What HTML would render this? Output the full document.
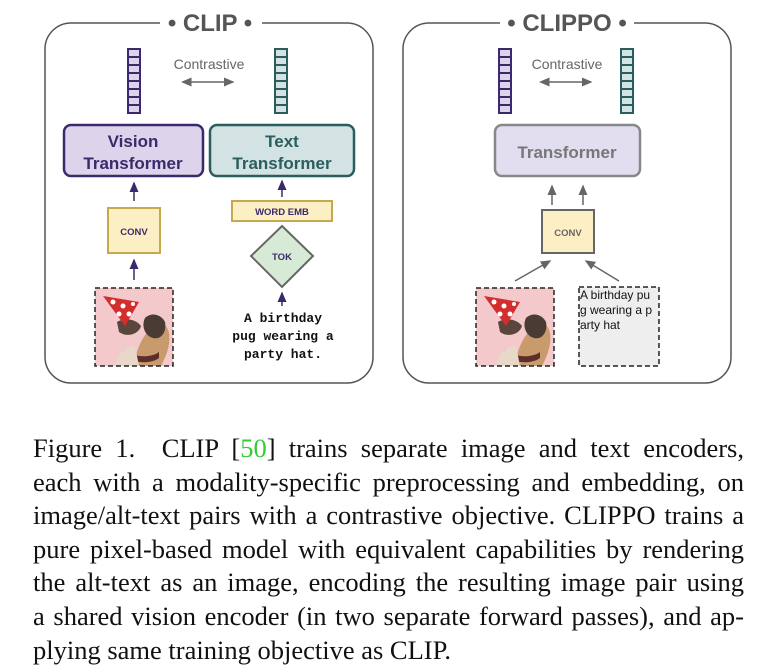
<!DOCTYPE html>
<html><head><style>
body{margin:0;background:#fff;width:769px;height:671px;overflow:hidden;position:relative}
svg{position:absolute;left:0;top:0}
.cap{position:absolute;left:33px;width:711px;top:432px;font-family:"Liberation Serif",serif;font-size:26.5px;line-height:33.6px;color:#111}
.cap div{text-align:justify;text-align-last:justify;white-space:nowrap;height:33.6px}
.cap div.l{text-align-last:left}
</style></head><body>
<svg width="769" height="420" xmlns="http://www.w3.org/2000/svg" font-family="Liberation Sans, sans-serif">
<defs>
<marker id="ap" markerWidth="8" markerHeight="8" refX="6" refY="4" orient="auto"><path d="M0,1 L7,4 L0,7 z" fill="#3b2a6b"/></marker>
<marker id="ag" markerWidth="8" markerHeight="8" refX="6" refY="4" orient="auto"><path d="M0,1 L7,4 L0,7 z" fill="#666"/></marker>
<marker id="ag2" markerWidth="8" markerHeight="8" refX="2" refY="4" orient="auto"><path d="M7,1 L0,4 L7,7 z" fill="#666"/></marker>
<g id="dog">
<rect x="0" y="0" width="78" height="78" fill="#f3c9cc"/>
<path d="M40,78 C40,60 50,45 58,38 C64,33 72,35 74,45 C76,58 70,70 66,78 z" fill="#c99b6c"/>
<path d="M50,30 C56,24 66,26 70,34 C72,44 66,52 58,50 C50,48 46,38 50,30 z" fill="#4a3b35"/>
<path d="M22,34 C28,30 40,30 46,38 C44,46 32,50 24,44 z" fill="#5a463c"/>
<path d="M8,8 L44,14 L30,38 z" fill="#d42d2d"/>
<circle cx="18" cy="14" r="2.5" fill="#fff"/><circle cx="28" cy="18" r="2.5" fill="#fff"/><circle cx="34" cy="26" r="2.5" fill="#fff"/><circle cx="24" cy="26" r="2.5" fill="#fff"/><circle cx="38" cy="16" r="2" fill="#fff"/>
<path d="M28,62 C40,70 56,70 64,64 L64,70 C56,76 40,76 28,68 z" fill="#5c2f2a"/>
<path d="M20,78 C22,66 30,58 40,58 L44,78 z" fill="#e8d8c8"/>
</g>
</defs>

<rect x="45" y="23" width="328" height="360" rx="26" fill="none" stroke="#555" stroke-width="1.5"/>
<rect x="403" y="23" width="328" height="360" rx="26" fill="none" stroke="#555" stroke-width="1.5"/>
<rect x="160" y="8" width="102" height="28" fill="#fff"/>
<rect x="500" y="8" width="134" height="28" fill="#fff"/>
<text x="210" y="31" text-anchor="middle" font-size="24" font-weight="bold" fill="#555">• CLIP •</text>
<text x="567" y="31" text-anchor="middle" font-size="24" font-weight="bold" fill="#555">• CLIPPO •</text>

<g stroke-width="2">
<g stroke="#3b2a6b" fill="#ddd3ea">
<rect x="128" y="49" width="12" height="64"/><path d="M128,57h12M128,65h12M128,73h12M128,81h12M128,89h12M128,97h12M128,105h12"/>
<rect x="499" y="49" width="12" height="64"/><path d="M499,57h12M499,65h12M499,73h12M499,81h12M499,89h12M499,97h12M499,105h12"/>
</g>
<g stroke="#2a5e5e" fill="#d3e3e3">
<rect x="275" y="49" width="12" height="64"/><path d="M275,57h12M275,65h12M275,73h12M275,81h12M275,89h12M275,97h12M275,105h12"/>
<rect x="621" y="49" width="12" height="64"/><path d="M621,57h12M621,65h12M621,73h12M621,81h12M621,89h12M621,97h12M621,105h12"/>
</g>
</g>
<text x="209" y="69" text-anchor="middle" font-size="14" fill="#666">Contrastive</text>
<text x="567" y="69" text-anchor="middle" font-size="14" fill="#666">Contrastive</text>
<line x1="184" y1="82" x2="233" y2="82" stroke="#666" stroke-width="1.5" marker-end="url(#ag)" marker-start="url(#ag2)"/>
<line x1="542" y1="82" x2="591" y2="82" stroke="#666" stroke-width="1.5" marker-end="url(#ag)" marker-start="url(#ag2)"/>

<rect x="64" y="125" width="139" height="51" rx="7" fill="#ddd3ea" stroke="#3b2a6b" stroke-width="2.5"/>
<text x="133" y="147" text-anchor="middle" font-size="17" font-weight="bold" fill="#3b2a6b">Vision</text>
<text x="133" y="169" text-anchor="middle" font-size="17" font-weight="bold" fill="#3b2a6b">Transformer</text>
<rect x="210" y="125" width="144" height="51" rx="7" fill="#d3e3e3" stroke="#2a5e5e" stroke-width="2.5"/>
<text x="282" y="147" text-anchor="middle" font-size="17" font-weight="bold" fill="#2a5e5e">Text</text>
<text x="282" y="169" text-anchor="middle" font-size="17" font-weight="bold" fill="#2a5e5e">Transformer</text>
<rect x="495" y="125" width="145" height="51" rx="7" fill="#e2deef" stroke="#888" stroke-width="2.5"/>
<text x="567" y="158" text-anchor="middle" font-size="17" font-weight="bold" fill="#777">Transformer</text>

<g stroke="#3b2a6b" stroke-width="1.5">
<line x1="134" y1="201" x2="134" y2="183" marker-end="url(#ap)"/>
<line x1="134" y1="280" x2="134" y2="260" marker-end="url(#ap)"/>
<line x1="282" y1="197" x2="282" y2="181" marker-end="url(#ap)"/>
<line x1="282" y1="306" x2="282" y2="293" marker-end="url(#ap)"/>
</g>
<rect x="108" y="208" width="52" height="45" fill="#fdefc4" stroke="#c8a84b" stroke-width="2"/>
<text x="134" y="235" text-anchor="middle" font-size="9.5" font-weight="bold" fill="#3b2a6b">CONV</text>
<rect x="232" y="201" width="100" height="20" fill="#fdefc4" stroke="#c8a84b" stroke-width="2"/>
<text x="282" y="215" text-anchor="middle" font-size="9.5" font-weight="bold" fill="#3b2a6b">WORD EMB</text>
<path d="M282,226 L313,256 L282,287 L251,256 z" fill="#d6ead6" stroke="#666" stroke-width="2"/>
<text x="282" y="260" text-anchor="middle" font-size="9.5" font-weight="bold" fill="#3b2a6b">TOK</text>
<g font-family="Liberation Mono, monospace" font-size="13" font-weight="bold" text-anchor="middle" fill="#111">
<text x="283" y="322">A birthday</text><text x="283" y="340">pug wearing a</text><text x="283" y="358">party hat.</text>
</g>
<use href="#dog" x="95" y="288"/>
<rect x="95" y="288" width="78" height="78" fill="none" stroke="#222" stroke-width="1.5" stroke-dasharray="5,3"/>

<g stroke="#666" stroke-width="1.5">
<line x1="552" y1="205" x2="552" y2="186" marker-end="url(#ag)"/>
<line x1="583" y1="205" x2="583" y2="186" marker-end="url(#ag)"/>
<line x1="515" y1="281" x2="550" y2="261" marker-end="url(#ag)"/>
<line x1="619" y1="281" x2="586" y2="261" marker-end="url(#ag)"/>
</g>
<rect x="542" y="210" width="52" height="43" fill="#fdefc4" stroke="#666" stroke-width="2"/>
<text x="568" y="236" text-anchor="middle" font-size="9.5" font-weight="bold" fill="#666">CONV</text>
<use href="#dog" x="476" y="288"/>
<rect x="476" y="288" width="78" height="78" fill="none" stroke="#222" stroke-width="1.5" stroke-dasharray="5,3"/>
<rect x="579" y="287" width="80" height="79" fill="#eee" stroke="#222" stroke-width="1.5" stroke-dasharray="5,3"/>
<g font-size="12" fill="#111"><text x="580" y="299">A birthday pu</text><text x="580" y="314">g wearing a p</text><text x="580" y="329">arty hat</text></g>
</svg>
<div class="cap">
<div>Figure 1.&nbsp;&nbsp;CLIP [<span style="color:#3c3">50</span>] trains separate image and text encoders,</div>
<div>each with a modality-specific preprocessing and embedding, on</div>
<div>image/alt-text pairs with a contrastive objective. CLIPPO trains a</div>
<div>pure pixel-based model with equivalent capabilities by rendering</div>
<div>the alt-text as an image, encoding the resulting image pair using</div>
<div>a shared vision encoder (in two separate forward passes), and ap-</div>
<div class="l">plying same training objective as CLIP.</div>
</div>
</body></html>
